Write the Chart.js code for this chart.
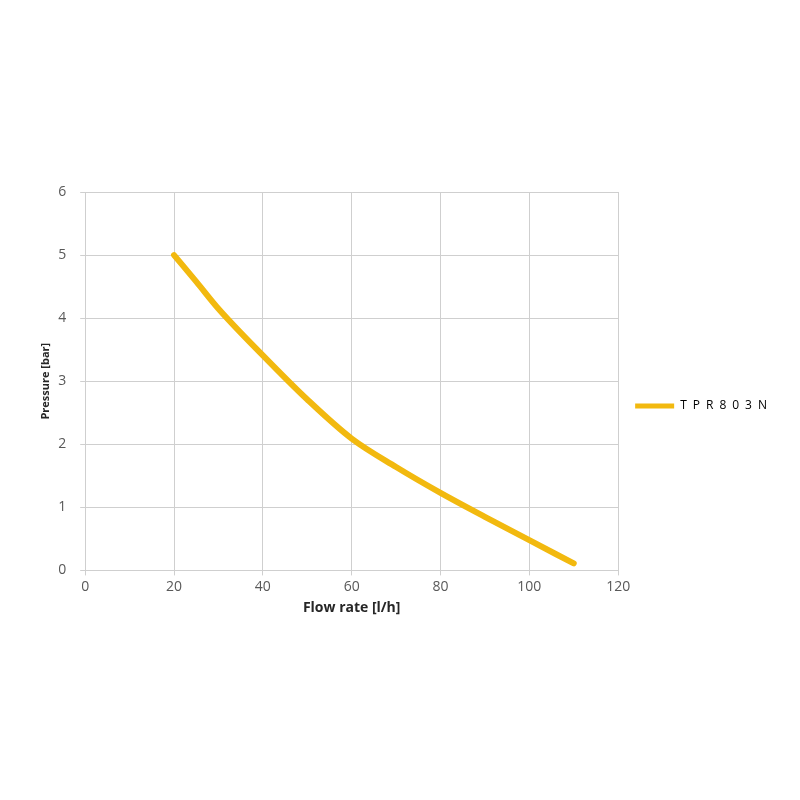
<!DOCTYPE html>
<html>
<head>
<meta charset="utf-8">
<script src="https://cdn.jsdelivr.net/npm/chart.js@4"></script>
<style>
  html, body { margin: 0; padding: 0; background: #fff; }
  #wrap { width: 800px; height: 800px; }
</style>
</head>
<body>
<div id="wrap"><canvas id="pumpChart" width="800" height="800"></canvas></div>
<script>
// Pressure curve
const flowRate = [20, 25, 30, 40, 50, 60, 70, 80, 90, 100, 110];
const pressure = [5.0, 4.58, 4.15, 3.41, 2.71, 2.09, 1.64, 1.23, 0.85, 0.48, 0.11];
const seriesName = "T\u2002P\u2002R\u20028\u20020\u20023\u2002N";
const xTitle = "Flow rate [l/h]";
const yTitle = "Pressure [bar]";

const lineColor = "#F2B90F";
const gridColor = "#cfcfcf";
const textColor = "#595959";

const points = flowRate.map((x, i) => ({ x: x, y: pressure[i] }));

new Chart(document.getElementById("pumpChart"), {
  type: "line",
  data: {
    datasets: [{
      label: seriesName,
      data: points,
      borderColor: lineColor,
      backgroundColor: lineColor,
      borderWidth: 6,
      borderCapStyle: "round",
      pointRadius: 0,
      cubicInterpolationMode: "monotone",
      fill: false
    }]
  },
  options: {
    responsive: false,
    animation: false,
    layout: { padding: { left: 39, right: 23, top: 192, bottom: 180 } },
    plugins: {
      tooltip: { enabled: false },
      legend: {
        position: "right",
        labels: {
          color: textColor,
          font: { family: "Open Sans", size: 12 },
          boxWidth: 39,
          boxHeight: 5,
          padding: 17,
          generateLabels: chart => chart.data.datasets.map((ds, i) => ({
            text: ds.label,
            fillStyle: ds.borderColor,
            strokeStyle: ds.borderColor,
            lineWidth: 0,
            datasetIndex: i
          }))
        }
      }
    },
    scales: {
      x: {
        type: "linear",
        min: 0,
        max: 120,
        ticks: { stepSize: 20, color: textColor, font: { family: "Open Sans", size: 14 }, padding: 3 },
        grid: { color: gridColor, tickLength: 5, tickColor: gridColor },
        border: { color: gridColor },
        title: { display: true, text: xTitle, color: "#262626", font: { family: "Open Sans", size: 14, weight: "bold" }, padding: { top: 1 } }
      },
      y: {
        min: 0,
        max: 6,
        ticks: { stepSize: 1, color: textColor, font: { family: "Open Sans", size: 14 }, padding: 14 },
        grid: { color: gridColor, tickLength: 5, tickColor: gridColor },
        border: { color: gridColor },
        title: { display: true, text: yTitle, color: "#262626", font: { family: "Open Sans", size: 11, weight: "bold" }, padding: { top: 0, bottom: -8 } }
      }
    }
  }
});
</script>
</body>
</html>
